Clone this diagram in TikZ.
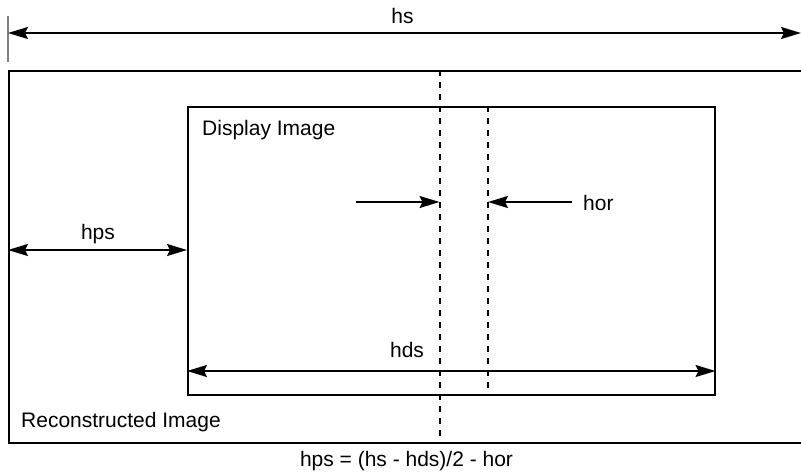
\documentclass[tikz,border=0pt]{standalone}
\usepackage{fontspec}
\setmainfont{Liberation Sans}
\usetikzlibrary{positioning,arrows.meta}

\begin{document}
\begin{tikzpicture}[
  x=1pt, y=-1pt,
  frame/.style={draw, line width=2pt, inner sep=0pt, anchor=north west},
  lbl/.style={font=\fontsize{21}{25}\selectfont, inner sep=0pt},
  dim/.style={{Stealth[length=20pt, width=12pt, inset=3pt]}-{Stealth[length=20pt, width=12pt, inset=3pt]}, line width=2pt},
  onedim/.style={-{Stealth[length=20pt, width=12pt, inset=3pt]}, line width=2pt},
  guide/.style={line width=2pt, dash pattern=on 6pt off 6pt},
  tick/.style={draw=gray, line width=1.5pt}
]
\clip (0,0) rectangle (801,472);
\node[frame, minimum width=800pt, minimum height=371.6pt] (recon) at (8,70) {};
\node[frame, minimum width=526.5pt, minimum height=287.5pt] (disp) at (187,106) {};
\node[lbl, anchor=base west] (displbl) at (202,135) {Display Image};
\node[lbl, anchor=base west] (reconlbl) at (21,427) {Reconstructed Image};
\coordinate (axis) at (439.5,0);
\coordinate (shift) at (488,0);
\draw[guide] (axis |- recon.north) -- (axis |- recon.south);
\draw[guide] (shift |- disp.north) -- (shift |- disp.south);
\coordinate (hsL) at (8,33);
\coordinate (hsR) at (801,33);
\draw[tick] (8,16) -- (8,62);
\draw[dim] (hsL) -- (hsR);
\node[lbl, anchor=base] (hs) at (402.5,23) {hs};
\draw[dim] (recon.west |- 0,250) -- (disp.west |- 0,250);
\node[lbl, anchor=base] (hps) at (98,239) {hps};
\draw[dim] (disp.west |- 0,371) -- (disp.east |- 0,371);
\node[lbl, anchor=base] (hds) at (407,357) {hds};
\coordinate (horL) at (356,202);
\coordinate (horR) at (572,202);
\draw[onedim] (horL) -- (axis |- horL);
\draw[onedim] (horR) -- (shift |- horR);
\node[lbl, anchor=base west] (hor) at (583,210) {hor};
\node[lbl, anchor=base] (formula) at (406.5,466) {hps = (hs - hds)/2 - hor};
\end{tikzpicture}
\end{document}
